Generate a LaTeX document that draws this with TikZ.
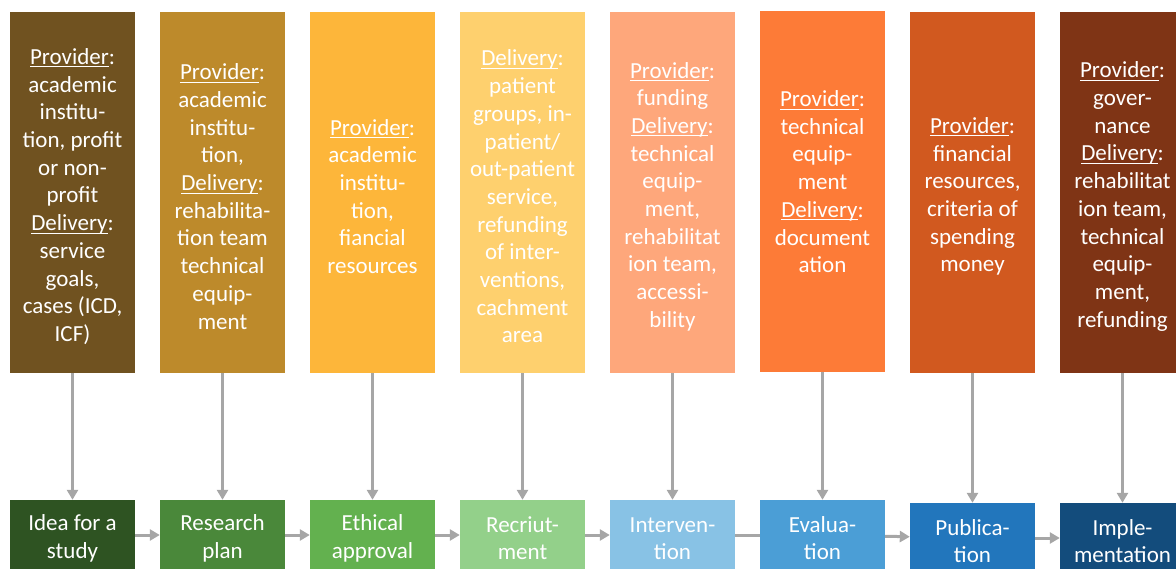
\documentclass[tikz,border=0pt]{standalone}
\usepackage{fontspec}
\setmainfont{Carlito}
\usepackage{tikz}
\usetikzlibrary{arrows.meta}

\definecolor{top1}{RGB}{112,82,32}
\definecolor{top2}{RGB}{189,138,43}
\definecolor{top3}{RGB}{253,182,58}
\definecolor{top4}{RGB}{254,208,110}
\definecolor{top5}{RGB}{254,167,123}
\definecolor{top6}{RGB}{253,123,55}
\definecolor{top7}{RGB}{209,89,31}
\definecolor{top8}{RGB}{127,52,21}
\definecolor{low1}{RGB}{46,83,34}
\definecolor{low2}{RGB}{74,136,58}
\definecolor{low3}{RGB}{99,177,79}
\definecolor{low4}{RGB}{147,208,138}
\definecolor{low5}{RGB}{136,194,229}
\definecolor{low6}{RGB}{75,158,214}
\definecolor{low7}{RGB}{34,118,188}
\definecolor{low8}{RGB}{19,76,124}
\definecolor{linkgray}{RGB}{166,166,166}

\newcommand{\hd}[1]{\setbox0=\hbox{#1}\rlap{\vrule width\wd0 height -2pt depth 3pt}\box0:}
\newcommand{\lift}[1]{\rule{0pt}{#1}}

\tikzset{
  srcbox/.style={rectangle,minimum width=125pt,minimum height=361pt,inner sep=0pt,
    align=center,text=white,font=\fontsize{23}{27.7}\selectfont},
  stepbox/.style={rectangle,minimum width=125pt,minimum height=70pt,inner sep=0pt,
    align=center,text=white,font=\fontsize{23}{27.7}\selectfont},
  link/.style={draw=linkgray,line width=3pt,-{Triangle[length=10pt,width=11pt]}}
}

\begin{document}
\begin{tikzpicture}[x=1pt,y=-1pt]
\useasboundingbox (0,0) rectangle (1176,568);
\clip (0,0) rectangle (1176,568);
\node[srcbox,fill=top1] (src1) at (72.5,192.5) {\lift{24pt}\hd{Provider}\\academic\\institu-\\tion, profit\\or non-\\profit\\\hd{Delivery}\\service\\goals,\\cases (ICD,\\ICF)};
\node[srcbox,fill=top2] (src2) at (222.5,192.5) {\lift{24pt}\hd{Provider}\\academic\\institu-\\tion,\\\hd{Delivery}\\rehabilita-\\tion team\\technical\\equip-\\ment};
\node[srcbox,fill=top3] (src3) at (372.5,192.5) {\lift{24pt}\hd{Provider}\\academic\\institu-\\tion,\\fiancial\\resources};
\node[srcbox,fill=top4] (src4) at (522.5,192.5) {\lift{24pt}\hd{Delivery}\\patient\\groups, in-\\patient/\\out-patient\\service,\\refunding\\of inter-\\ventions,\\cachment\\area};
\node[srcbox,fill=top5] (src5) at (672.5,192.5) {\lift{24pt}\hd{Provider}\\funding\\\hd{Delivery}\\technical\\equip-\\ment,\\rehabilitat\\ion team,\\accessi-\\bility};
\node[srcbox,fill=top6] (src6) at (822.5,191.5) {\lift{24pt}\hd{Provider}\\technical\\equip-\\ment\\\hd{Delivery}\\document\\ation\\~};
\node[srcbox,fill=top7] (src7) at (972.5,192.5) {\lift{24pt}\hd{Provider}\\financial\\resources,\\criteria of\\spending\\money};
\node[srcbox,fill=top8] (src8) at (1122.5,192.5) {\lift{24pt}\hd{Provider}\\gover-\\nance\\\hd{Delivery}\\rehabilitat\\ion team,\\technical\\equip-\\ment,\\refunding};

\node[stepbox,fill=low1] (step1) at (72.5,535) {\lift{22pt}Idea for a\\study};
\node[stepbox,fill=low2] (step2) at (222.5,535) {\lift{22pt}Research\\plan};
\node[stepbox,fill=low3] (step3) at (372.5,535) {\lift{22pt}Ethical\\approval};
\node[stepbox,fill=low4] (step4) at (522.5,535) {\lift{22pt}Recriut-\\ment};
\node[stepbox,fill=low5] (step5) at (672.5,535) {\lift{22pt}Interven-\\tion};
\node[stepbox,fill=low6] (step6) at (822.5,535) {\lift{22pt}Evalua-\\tion};
\node[stepbox,fill=low7] (step7) at (972.5,538) {\lift{22pt}Publica-\\tion};
\node[stepbox,fill=low8] (step8) at (1122.5,538) {\lift{22pt}Imple-\\mentation};

\draw[link] (src1) -- (step1);
\draw[link] (src2) -- (step2);
\draw[link] (src3) -- (step3);
\draw[link] (src4) -- (step4);
\draw[link] (src5) -- (step5);
\draw[link] (src6) -- (step6);
\draw[link] (src7) -- (step7);
\draw[link] (src8) -- (step8);

\draw[link] (step1) -- (step2);
\draw[link] (step2) -- (step3);
\draw[link] (step3) -- (step4);
\draw[link] (step4) -- (step5);
\draw[link,-] (step5) -- (step6);
\draw[link] (step6) -- (step7);
\draw[link] (step7) -- (step8);
\end{tikzpicture}
\end{document}
